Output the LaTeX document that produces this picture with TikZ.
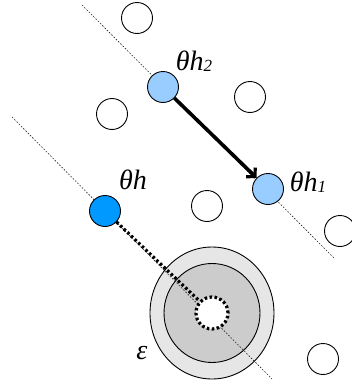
\documentclass[tikz,border=0pt]{standalone}
\usepackage{fontspec}
\setmainfont{Liberation Serif}
\usetikzlibrary{arrows.meta,shapes.geometric}
\definecolor{paleblue}{RGB}{153,204,255}
\definecolor{brightblue}{RGB}{0,153,255}
\definecolor{ringouter}{RGB}{230,230,230}
\definecolor{ringinner}{RGB}{204,204,204}
\tikzset{
  pt/.style={circle,draw=black,line width=0.9pt,minimum size=31pt,inner sep=0pt,fill=white},
  guide/.style={line width=0.6pt,dash pattern=on 1.6pt off 1.6pt,black!85},
  lbl/.style={font=\fontsize{28}{28}\selectfont\itshape,inner sep=0pt},
}
\newcommand{\thsub}[1]{θh{\fontsize{17}{17}\selectfont\raisebox{-1pt}{#1}}}
\begin{document}
\begin{tikzpicture}[x=1pt,y=-1pt]
\useasboundingbox (0,0) rectangle (351,383);
% neighbourhood rings
\node[ellipse,draw=black,line width=0.9pt,fill=ringouter,minimum width=124pt,minimum height=132pt,inner sep=0pt] (outer) at (212,313) {};
\node[ellipse,draw=black,line width=0.9pt,fill=ringinner,minimum width=96pt,minimum height=99pt,inner sep=0pt] (inner) at (212,313) {};
% guide lines
\coordinate (a1) at (82,5);
\coordinate (a2) at (335,259);
\coordinate (b1) at (12,117);
\coordinate (b2) at (272,379);
\draw[guide] (a1) -- (a2);
\draw[guide] (b1) -- (b2);
% points
\node[pt] (c1) at (137,18) {};
\node[pt] (c2) at (250,97) {};
\node[pt] (c3) at (112,114) {};
\node[pt] (c4) at (207,206) {};
\node[pt] (c5) at (340,231) {};
\node[pt] (c6) at (323,359) {};
\node[pt,fill=paleblue] (t2) at (163,87) {};
\node[pt,fill=paleblue] (t1) at (268,189) {};
\node[pt,fill=brightblue] (th) at (105,211) {};
\node[circle,fill=white,minimum size=32pt,inner sep=0pt,draw=black,line width=3.2pt,dash pattern=on 2.6pt off 2.4pt] (z) at (212,313) {};
% moves
\draw[line width=3.2pt,dash pattern=on 2.6pt off 2.4pt] (th) -- (z);
\draw[line width=3.6pt,-{Straight Barb[length=6pt,width=13pt,line width=3.2pt]}] (t2) -- (t1);
% labels
\node[lbl] (l2) at (194,61) {\thsub{2}};
\node[lbl] (l1) at (308,182) {\thsub{1}};
\node[lbl] (lh) at (133,180) {θh};
\node[lbl] (le) at (142,353) {ε};
\end{tikzpicture}
\end{document}
